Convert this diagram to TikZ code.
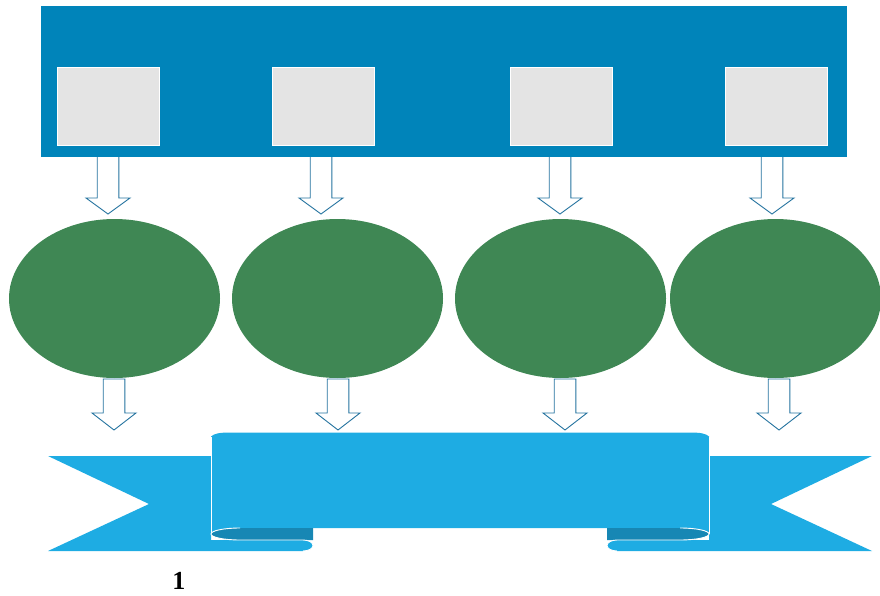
\documentclass[tikz,border=0pt]{standalone}
\usepackage{fontspec}
\setmainfont{Liberation Serif}
\usetikzlibrary{shapes.geometric}
\definecolor{bandblue}{HTML}{0084BA}
\definecolor{boxgrey}{HTML}{E4E4E4}
\definecolor{leafgreen}{HTML}{3F8754}
\definecolor{ribbonblue}{HTML}{1EACE3}
\definecolor{folddark}{HTML}{1787B4}
\definecolor{arrowline}{HTML}{24739F}
\begin{document}
\begin{tikzpicture}[x=1pt,y=-1pt,
  band/.style={fill=bandblue,draw=none,inner sep=0pt,minimum width=806pt,minimum height=151pt},
  greybox/.style={fill=boxgrey,draw=white,line width=0.8pt,inner sep=0pt,minimum width=102pt,minimum height=78pt},
  blob/.style={ellipse,fill=leafgreen,draw=none,inner sep=0pt,minimum width=211pt,minimum height=159pt},
  ribbon/.style={fill=ribbonblue},
  fold/.style={fill=folddark},
  edge/.style={draw=white,line width=0.9pt},
  labeltext/.style={anchor=base,inner sep=0pt,font=\bfseries\fontsize{26}{28}\selectfont},
  pics/blockarrow/.style 2 args={code={
    \draw[draw=arrowline,fill=white,line width=0.9pt,line join=miter]
      (-10.8,0) -- (-10.8,#2) -- (-22,#2) -- (0,#1) -- (22,#2) -- (10.8,#2) -- (10.8,0) -- cycle;}}
]
\useasboundingbox (0,0) rectangle (880,596);
% top arrows (drawn first, tops hidden by the band)
\pic at (108,154) {blockarrow={60}{44}};
\pic at (321,154) {blockarrow={60}{44}};
\pic at (560,154) {blockarrow={60}{44}};
\pic at (772,154) {blockarrow={60}{44}};
% top band and grey boxes
\node[band] (bandnode) at (444,81.5) {};
\node[greybox] (g1) at (108,106) {};
\node[greybox] (g2) at (323,106) {};
\node[greybox] (g3) at (561,106) {};
\node[greybox] (g4) at (776,106) {};
% green ellipses
\node[blob] (e1) at (114.5,298.5) {};
\node[blob] (e2) at (337.5,298.5) {};
\node[blob] (e3) at (560.5,298.5) {};
\node[blob] (e4) at (775.5,298.5) {};
% lower arrows
\pic at (114,379) {blockarrow={51}{34}};
\pic at (338,379) {blockarrow={51}{34}};
\pic at (565,379) {blockarrow={51}{34}};
\pic at (779,379) {blockarrow={51}{34}};
% ribbon tails
\fill[ribbon] (48,456) -- (211,456) -- (211,540) -- (303,540)
  arc[start angle=-90,end angle=90,x radius=10,y radius=5.5] -- (48,551) -- (149,504) -- cycle;
\fill[ribbon] (872,456) -- (709,456) -- (709,540) -- (617,540)
  arc[start angle=-90,end angle=-270,x radius=10,y radius=5.5] -- (872,551) -- (771,504) -- cycle;
% ribbon centre
\fill[ribbon] (211,534) -- (211,436.5) .. controls (214,433.5) and (220,432.5) .. (230,432.5)
  -- (690,432.5) .. controls (700,432.5) and (706,433.5) .. (709,436.5) -- (709,534)
  arc[start angle=0,end angle=-90,x radius=29,y radius=6] -- (240,528)
  arc[start angle=-90,end angle=-180,x radius=29,y radius=6] -- cycle;
\draw[edge] (211,534) -- (211,436.5);
\draw[edge] (709,534) -- (709,436.5);
% folds
\fill[fold] (313,528) -- (240,528) arc[start angle=-90,end angle=-270,x radius=29,y radius=6] -- (313,540) -- cycle;
\fill[fold] (607,528) -- (680,528) arc[start angle=-90,end angle=90,x radius=29,y radius=6] -- (607,540) -- cycle;
\draw[edge] (240,528) arc[start angle=-90,end angle=-270,x radius=29,y radius=6] -- (303,540)
  arc[start angle=-90,end angle=90,x radius=10,y radius=5.5];
\draw[edge] (680,528) arc[start angle=-90,end angle=90,x radius=29,y radius=6] -- (617,540)
  arc[start angle=-90,end angle=-270,x radius=10,y radius=5.5];
% label
\node[labeltext] (lbl) at (178.8,589.3) {1};
\end{tikzpicture}
\end{document}
